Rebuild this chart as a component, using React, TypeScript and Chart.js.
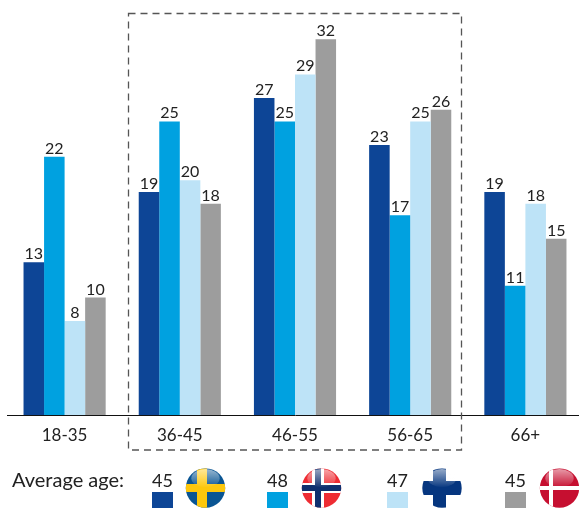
import React, { useEffect, useRef } from "react";
import { Chart, registerables } from "chart.js";

Chart.register(...registerables);

const categories = ["18-35", "36-45", "46-55", "56-65", "66+"];
const sweden = [13, 19, 27, 23, 19];
const norway = [22, 25, 25, 17, 11];
const finland = [8, 20, 29, 25, 18];
const denmark = [10, 18, 32, 26, 15];
const seriesColors = ["#0d4596", "#00a1e0", "#bde3f7", "#9d9d9d"];
const seriesNames = ["Sweden", "Norway", "Finland", "Denmark"];
const averageAges = [45, 48, 47, 45];
const FONT = "Lato, 'Open Sans', sans-serif";

function disc(ctx: CanvasRenderingContext2D, cx: number, cy: number, r: number, draw: () => void) {
  ctx.save();
  ctx.beginPath();
  ctx.arc(cx, cy, r, 0, Math.PI * 2);
  ctx.clip();
  draw();
  ctx.restore();
}

function gloss(ctx: CanvasRenderingContext2D, cx: number, cy: number, r: number) {
  const g = ctx.createLinearGradient(0, cy - r, 0, cy);
  g.addColorStop(0, "rgba(255,255,255,0.6)");
  g.addColorStop(1, "rgba(255,255,255,0)");
  ctx.fillStyle = g;
  ctx.beginPath();
  ctx.ellipse(cx, cy - r * 0.5, r * 0.72, r * 0.46, 0, 0, Math.PI * 2);
  ctx.fill();
}

const rect = (ctx: CanvasRenderingContext2D, c: string, x: number, y: number, w: number, h: number) => {
  ctx.fillStyle = c;
  ctx.fillRect(x, y, w, h);
};

const overlay = {
  id: "overlay",
  afterDatasetsDraw(chart: any) {
    const ctx: CanvasRenderingContext2D = chart.ctx;
    ctx.save();
    // data labels
    ctx.font = `16px ${FONT}`;
    ctx.fillStyle = "#222";
    ctx.textAlign = "center";
    ctx.textBaseline = "alphabetic";
    chart.data.datasets.forEach((ds: any, i: number) => {
      chart.getDatasetMeta(i).data.forEach((bar: any, j: number) => {
        ctx.fillText(String(ds.data[j]), bar.x, bar.y - 3);
      });
    });
    // dashed box
    ctx.strokeStyle = "#555";
    ctx.lineWidth = 1.3;
    ctx.setLineDash([7, 5]);
    ctx.strokeRect(128.5, 13.5, 333, 436.5);
    ctx.setLineDash([]);
    // legend
    ctx.font = `20px ${FONT}`;
    ctx.textAlign = "left";
    ctx.fillStyle = "#222";
    ctx.fillText("Average age:", 12, 487);
    ctx.font = `18px ${FONT}`;
    const xs = [152, 267, 387, 505];
    averageAges.forEach((a, i) => {
      ctx.fillStyle = "#222";
      ctx.fillText(String(a), xs[i], 487);
      ctx.fillStyle = seriesColors[i];
      ctx.fillRect(xs[i], 492, 21, 16);
    });
    // flags
    const R = 19.7, cy = 488;
    disc(ctx, 205.5, cy, R, () => {
      rect(ctx, "#0a5593", 180, cy - R, 50, 40);
      rect(ctx, "#fdc70c", 180, cy - 4, 50, 8);
      rect(ctx, "#fdc70c", 197, cy - R, 10, 40);
    });
    gloss(ctx, 205.5, cy, R);
    disc(ctx, 321.5, cy, R, () => {
      rect(ctx, "#ee2c33", 295, cy - R, 50, 40);
      rect(ctx, "#fff", 295, cy - 5, 50, 10);
      rect(ctx, "#fff", 312, cy - R, 12, 40);
      rect(ctx, "#0f2f6e", 295, cy - 3, 50, 6);
      rect(ctx, "#0f2f6e", 315, cy - R, 6, 40);
    });
    gloss(ctx, 321.5, cy, R);
    disc(ctx, 442, cy, R, () => {
      rect(ctx, "#06367f", 415, cy - 7, 50, 14);
      rect(ctx, "#06367f", 433, cy - R, 13, 40);
    });
    gloss(ctx, 442, cy, R);
    disc(ctx, 559.5, cy, R, () => {
      rect(ctx, "#c60f30", 530, cy - R, 55, 40);
      rect(ctx, "#fff", 530, cy - 2, 55, 4);
      rect(ctx, "#fff", 549, cy - R, 4, 40);
    });
    gloss(ctx, 559.5, cy, R);
    ctx.restore();
  },
};

export default function App() {
  const ref = useRef<HTMLCanvasElement>(null);
  useEffect(() => {
    document.body.style.margin = "0";
    const series = [sweden, norway, finland, denmark];
    const chart = new Chart(ref.current!, {
      type: "bar",
      data: {
        labels: categories,
        datasets: series.map((data, i) => ({
          label: seriesNames[i],
          data,
          backgroundColor: seriesColors[i],
          categoryPercentage: 0.713,
          barPercentage: 1,
        })),
      },
      options: {
        responsive: false,
        animation: false,
        layout: { padding: { left: 7, top: 4, right: 0, bottom: 0 } },
        plugins: { legend: { display: false }, tooltip: { enabled: false } },
        scales: {
          x: {
            position: "bottom",
            grid: { display: false, drawTicks: false },
            border: { display: true, color: "#111", width: 1 },
            ticks: { color: "#222", font: { family: FONT, size: 17 }, padding: 10, maxRotation: 0 },
            afterFit(scale: any) {
              scale.height = 94;
            },
          },
          y: {
            display: false,
            min: 0,
            max: 35,
          },
        },
      },
      plugins: [overlay],
    });
    return () => chart.destroy();
  }, []);
  return (
    <div style={{ position: "absolute", left: 0, top: 0, width: 579, height: 509, overflow: "hidden" }}>
      <canvas ref={ref} width={583} height={509} style={{ display: "block" }} />
    </div>
  );
}
